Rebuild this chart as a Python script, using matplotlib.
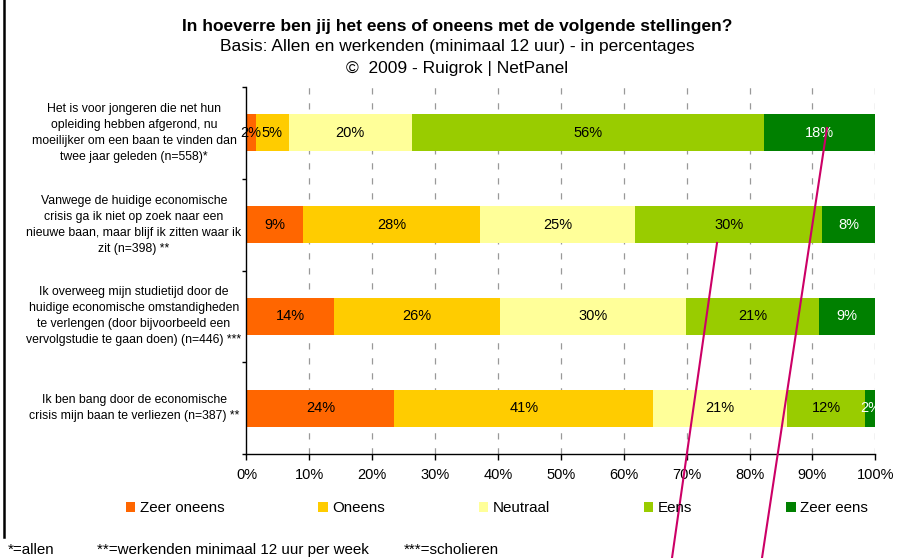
import matplotlib
matplotlib.use("Agg")
import matplotlib.pyplot as plt
from matplotlib.patches import Patch
from matplotlib.lines import Line2D
from matplotlib.transforms import blended_transform_factory

plt.rcParams['font.family'] = ['Liberation Sans', 'DejaVu Sans']

# ---- data ----
statements = [
    "Het is voor jongeren die net hun\nopleiding hebben afgerond, nu\nmoeilijker om een baan te vinden dan\ntwee jaar geleden (n=558)*",
    "Vanwege de huidige economische\ncrisis ga ik niet op zoek naar een\nnieuwe baan, maar blijf ik zitten waar ik\nzit (n=398) **",
    "Ik overweeg mijn studietijd door de\nhuidige economische omstandigheden\nte verlengen (door bijvoorbeeld een\nvervolgstudie te gaan doen) (n=446) ***",
    "Ik ben bang door de economische\ncrisis mijn baan te verliezen (n=387) **",
]
series_names = ["Zeer oneens", "Oneens", "Neutraal", "Eens", "Zeer eens"]
zeer_oneens = [1.5, 9.0, 13.9, 23.5]
oneens      = [5.2, 28.1, 26.4, 41.2]
neutraal    = [19.6, 24.7, 29.6, 21.3]
eens        = [56.0, 29.8, 21.2, 12.4]
zeer_eens   = [17.7, 8.4, 8.9, 1.6]
series_values = [zeer_oneens, oneens, neutraal, eens, zeer_eens]
colors = ["#FF6600", "#FFCC00", "#FFFF99", "#99CC00", "#008000"]
label_colors = ["black", "black", "black", "black", "white"]
x_ticks = [0, 10, 20, 30, 40, 50, 60, 70, 80, 90, 100]
x_ticklabels = [f"{t}%" for t in x_ticks]

title_lines = [
    "In hoeverre ben jij het eens of oneens met de volgende stellingen?",
    "Basis: Allen en werkenden (minimaal 12 uur) - in percentages",
    "\u00a9  2009 - Ruigrok | NetPanel",
]
footnotes = ["*=allen", "**=werkenden minimaal 12 uur per week", "***=scholieren"]

# ---- figure ----
W, H = 903, 558
fig = plt.figure(figsize=(W / 100, H / 100), dpi=100)
ax = fig.add_axes([246.5 / W, 1 - 454 / H, (875.3 - 246.5) / W, (454 - 87) / H])

ypos = list(range(len(statements)))
left = [0.0] * len(statements)
for name, vals, col, lc in zip(series_names, series_values, colors, label_colors):
    ax.barh(ypos, vals, left=left, height=0.403, color=col, label=name, zorder=2)
    for y, v, l in zip(ypos, vals, left):
        ax.text(l + v / 2, y, f"{v:.0f}%", ha="center", va="center", fontsize=10.5,
                color=lc, zorder=3)
    left = [a + b for a, b in zip(left, vals)]

ax.set_xlim(0, 100)
ax.set_ylim(len(statements) - 0.5, -0.5)
ax.set_xticks(x_ticks)
ax.set_xticklabels(x_ticklabels, fontsize=10.5)
ax.set_yticks([i - 0.5 for i in range(len(statements) + 1)])
ax.set_yticklabels([])
ax.tick_params(axis="x", direction="out", length=4, width=1, pad=6)
ax.tick_params(axis="y", direction="out", length=3, width=1)
for s in ["top", "right"]:
    ax.spines[s].set_visible(False)
for s in ["left", "bottom"]:
    ax.spines[s].set_linewidth(1.0)
ax.set_axisbelow(True)
ax.grid(axis="x", color="#999999", linewidth=0.9, linestyle=(0, (5, 7)))
ax.grid(axis="y", visible=False)
ax.get_xgridlines()[0].set_visible(False)

# category labels
trans = blended_transform_factory(fig.transFigure, ax.transData)
for y, s in zip(ypos, statements):
    ax.text(134 / W, y, s, transform=trans, ha="center", va="center",
            multialignment="center", fontsize=8.8, linespacing=1.45)

# titles
title_y = [27, 47, 68]
for i, (t, yy) in enumerate(zip(title_lines, title_y)):
    fig.text(457.5 / W, 1 - yy / H, t, ha="center", va="center", fontsize=12.5,
             fontweight="bold" if i == 0 else "normal")

# legend
handles = [Patch(facecolor=c, edgecolor="none", label=n) for n, c in zip(series_names, colors)]
fig.legend(handles=handles, loc="center left", bbox_to_anchor=(126 / W, 1 - 508 / H),
           ncol=5, frameon=False, fontsize=10.9, handlelength=0.62, handleheight=0.62,
           handletextpad=0.28, columnspacing=6.22, borderpad=0, borderaxespad=0)

# footnotes
for t, xx in zip(footnotes, [8, 97, 404]):
    fig.text(xx / W, 1 - 550 / H, t, ha="left", va="center", fontsize=10.9)

# left border line
fig.add_artist(Line2D([4 / W, 4 / W], [1, 1 - 537 / H], color="black", linewidth=1.8))

# hand-drawn red annotation lines
fig.add_artist(Line2D([672 / W, 717 / W], [1 - 558 / H, 1 - 243 / H], color="#CC0066", linewidth=1.5))
fig.add_artist(Line2D([762 / W, 827 / W], [1 - 558 / H, 1 - 128 / H], color="#CC0066", linewidth=1.5))

fig.savefig("out.png", dpi=100)
